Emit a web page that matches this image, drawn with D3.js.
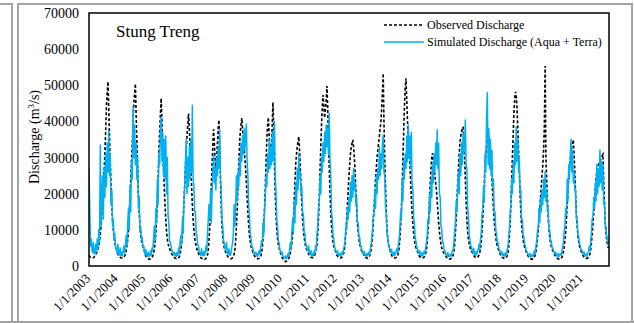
<!DOCTYPE html>
<html>
<head>
<meta charset="utf-8">
<script src="https://cdn.jsdelivr.net/npm/d3@7"></script>
<style>
  html, body { margin: 0; padding: 0; background: #fff; }
  svg { display: block; }
  text { font-family: "Liberation Serif", "Times New Roman", serif; fill: #000; }
</style>
</head>
<body>
<svg id="chart" width="634" height="323"></svg>
<script>
// Stung Treng discharge, thousands of m3/s, one value per ten days
// (1st, 11th and 21st of each month), one row per year 2003-2021.
const observedK = [
  3.0,2.6,2.4, 2.3,2.2,2.2, 2.3,2.5,2.9, 3.2,3.6,4.0, 4.6,5.5,7.0, 9.0,11.5,14, 17,21,26, 31,37,44, 48,51,44, 36,29,23, 17,13,10, 8.0,6.5,5.5,
  4.8,4.0,3.4, 2.9,2.6,2.4, 2.3,2.2,2.2, 2.3,2.5,2.8, 3.3,4.2,5.5, 7.5,10,14, 19,24,29, 34,40,45, 48,50.4,42, 34,27,20, 15,11,8.5, 7,6,5.2,
  4.6,4.0,3.2, 2.6,2.3,2.1, 2.0,1.9,1.9, 2.0,2.2,2.4, 2.8,3.5,4.5, 6.5,9,13, 18,24,31, 37,42,46.4, 40,33,27, 22,17,13, 9.5,7.5,6.2, 5.4,4.8,4.3,
  3.8,3.3,2.9, 2.6,2.4,2.2, 2.1,2.0,2.0, 2.1,2.3,2.6, 3.2,4.5,6.5, 9,13,18, 22,27,32, 36,39,42.2, 38,33,27, 22,17,13, 10,8,6.5, 5.5,4.6,4.0,
  3.5,3.0,2.6, 2.3,2.1,2.0, 1.9,1.8,1.8, 1.9,2.1,2.4, 3.0,4.5,7, 11,16,22, 28,33,37.8, 34,29,27, 30,34,38, 40.4,33,24, 16,11,8, 6.2,5.0,4.2,
  3.8,3.2,2.8, 2.5,2.3,2.2, 2.1,2.0,2.1, 2.3,2.7,3.3, 4.5,7,11, 16,22,28, 33,37,39, 40.9,38,35, 33,30,27, 23,19,15, 11,8.5,6.8, 5.6,4.8,4.2,
  3.6,3.1,2.7, 2.4,2.2,2.1, 2.0,2.0,2.1, 2.3,2.7,3.5, 5,7.5,11, 16,22,29, 35,39,41.1, 36,32,30, 33,39,45.3, 38,28,20, 14,10,7.5, 6,5,4.2,
  3.5,2.9,2.4, 2.0,1.7,1.5, 1.3,1.2,1.3, 1.5,1.8,2.2, 2.8,3.6,4.8, 6.5,9,13, 18,23,28, 31,33,34.5, 35.8,32,27, 22,17,13, 10,8,6.5, 5.5,4.8,4.2,
  3.8,3.3,2.9, 2.6,2.4,2.3, 2.3,2.4,2.6, 3.0,3.6,4.5, 6,9,13, 19,26,33, 39,44,47.3, 44,41,43, 46,49.8,44, 36,28,21, 15,11,8.5, 6.8,5.6,4.8,
  4.2,3.6,3.1, 2.7,2.5,2.3, 2.2,2.2,2.3, 2.5,2.9,3.5, 4.5,6.5,9.5, 13,17,21, 25,28,31, 33,34,34.9, 33,30,26, 21,16,12, 9.5,7.5,6.2, 5.3,4.6,4.0,
  4.0,3.3,2.8, 2.5,2.3,2.2, 2.1,2.2,2.4, 2.8,3.4,4.3, 6,8.5,12, 16,20,24, 27,30,32, 34,36,38, 40,44,48, 53.3,40,30, 22,15,10, 7.5,6,5,
  4.2,3.5,3.0, 2.6,2.4,2.3, 2.2,2.2,2.3, 2.5,2.9,3.6, 5,7.5,11, 16,22,30, 37,44,49, 51.9,46,40, 36,33,29, 24,19,15, 11.5,9,7.2, 6,5.2,4.6,
  4.0,3.4,2.9, 2.6,2.4,2.3, 2.2,2.2,2.3, 2.5,2.9,3.5, 4.5,6.5,9.5, 13,18,23, 27,30,31.2, 29,27,25, 23,21,18, 15,12,9.5, 7.5,6,5, 4.4,3.9,3.5,
  3.2,2.8,2.5, 2.3,2.1,2.0, 1.9,1.9,2.0, 2.2,2.5,3.0, 4,6,9, 13,18,23, 27,31,34, 36,37,38, 38.5,35,30, 24,18,13, 9.5,7.5,6.2, 5.3,4.6,4.1,
  3.8,3.3,2.9, 2.6,2.4,2.3, 2.3,2.4,2.6, 3.0,3.7,4.8, 6.5,9.5,13, 18,23,28, 31,33,35, 35.5,36,34, 31,28,24, 20,16,12.5, 10,8,6.5, 5.6,4.9,4.3,
  3.8,3.2,2.8, 2.5,2.3,2.2, 2.1,2.1,2.2, 2.4,2.8,3.5, 5,8,12, 17,23,30, 36,42,46, 48.2,47,44, 38,32,26, 20,15,11.5, 9,7.2,6, 5.2,4.5,4.0,
  3.6,3.0,2.6, 2.3,2.1,2.0, 1.9,1.9,2.0, 2.2,2.5,3.0, 4,5.5,7.5, 10,13,16, 19,22,25, 28,32,38, 55.3,30,24, 19,14,10.5, 8,6.5,5.5, 4.8,4.2,3.7,
  3.3,2.9,2.6, 2.3,2.1,2.0, 1.9,1.9,2.0, 2.1,2.4,2.9, 3.8,5.2,7, 9.5,13,17, 21,24,27, 29,31,33, 34,34.9,31, 26,20,15, 11,8.5,6.8, 5.6,4.8,4.2,
  3.7,3.2,2.8, 2.5,2.3,2.2, 2.1,2.1,2.2, 2.4,2.8,3.4, 4.5,6.5,9, 12,15,18, 21,24,26, 27,28,28.5, 29,29.5,30, 30.5,30.9,24, 17,12,9, 7,6,5
];

const simulatedK = [
  27,16,5.5, 7.5,4.2,3.6, 6.5,4,3.4, 6,3.8,7.5, 4.8,10,6.5, 33.5,11,19, 25,13,27, 19,31,22, 34,26,37.4, 25,31,17, 21,11,13, 7.5,9,5.2,
  4.6,3.6,6, 3.3,3,5, 2.9,3.8,2.8, 4.2,5.5,3.6, 6,8.5,5.5, 12,16,10, 22,15,29, 24,44,30, 39,28,34, 24,30,16, 19,10,11, 7,8,5.2,
  5.5,3.8,3.1, 4.5,2.9,2.7, 3.8,2.6,3, 4.2,2.9,5, 4.2,7.5,11, 7,16,12, 24,17,31, 28,38,41.3, 29,37,25, 35,24,36, 20,30,14, 12,7,6.5,
  5.5,4.2,4, 3.1,3.8,2.8, 3.4,2.6,3.8, 2.9,5,3.4, 6.5,8.5,6, 13,9,18, 22,29,35, 20,30,22, 33,24,35, 26,44.5,24, 22,15,15, 9,8.5,6,
  5.5,4,3.6, 3,4.8,2.9, 2.8,4,2.9, 3.6,5.5,4, 9,12.5,17, 13,21,12, 20,26,31, 23,27,21, 30,25,33, 27,37.6,24, 21,13,11, 7,6.5,4.8,
  4.5,6.5,3.6, 3.2,4.8,3, 2.9,3.8,5.2, 6.5,9.5,17, 11,16,25, 18,26,22, 30,25,34, 29,36,31, 38,32,36, 39.3,29,25, 17,14,9, 8,5.5,5.2,
  4.3,3.5,3.4, 3.8,2.8,3.5, 2.7,3.5,4.3, 3.3,5.5,7, 6.5,12,8.5, 16,19,25, 22,31,26, 35,27,33, 28,37,29, 35,40,25, 20,13,11, 7,6.5,4.6,
  4,3.2,3.9, 2.7,2.5,2.2, 2.2,2.8,2.0, 2.6,3.5,2.7, 4.5,6.5,4.8, 10,13,9.5, 18,12,23, 17,27,21, 31.2,24,26, 20,22,15, 14,9.5,9, 6,6,4.5,
  4.2,5.5,3.5, 3.1,4.3,2.9, 3.4,2.8,4, 3.3,5.5,4.3, 9,11,16, 17,25,20, 30,26,34, 29,37,31, 39,33,38, 31,42.2,30, 25,15,13, 8.5,7.5,5.3,
  4.8,3.9,3.6, 4.2,3,2.9, 3.5,2.7,3.4, 3.9,3.2,4.8, 5.5,7.5,11, 10,16,13, 19,15,23, 18,25,19, 27,21,23, 17,19,12, 12,8,8, 5.6,5.5,4.3,
  4,3.3,4, 2.9,2.8,3.5, 2.7,3.2,3.8, 3.1,4.6,5.8, 7.5,10,14, 14,21,16, 25,20,27, 24,33,25, 31,27,34, 36.2,26,25, 16,14,9, 8,5.8,5.2,
  4.5,3.7,4.6, 3.2,3,3.9, 2.8,3.5,4, 4.8,3.6,6, 7.5,10,15, 13,24,18, 29,24,31, 27,36,29, 39,30,36, 27,37,23, 21,13,12, 8,7,5.3,
  4.8,3.9,3.4, 4.2,2.9,2.8, 3.7,2.8,3.5, 4.1,3.3,5.2, 6.5,8.5,13, 12,20,15, 24,19,28, 23,31,26, 34,28,37.6, 27,34,20, 19,11,10, 6.5,6.5,4.8,
  4.2,3.5,3.2, 2.8,3.7,2.6, 2.7,3.2,2.6, 3.3,4.2,4.4, 6.5,9.5,12, 18,15,22, 26,20,31, 25,34,28, 37,31,34, 40.4,28,27, 16,14,8.5, 7.5,5.8,5.2,
  4.4,3.7,4.9, 3.2,3,4, 3.1,4.2,4.5, 6,4.5,7.5, 9,14,16, 22,18,31, 26,41,48, 28,38,27, 35,25,32, 22,24,15, 15,10,9, 6.5,6.5,4.8,
  4.5,3.6,3.4, 4,2.9,2.8, 3.4,2.7,3.6, 3,4.4,5.2, 7.5,10,14, 17,24,20, 29,23,34, 28,38.5,29, 35,26,30, 20,21,13, 13,8.5,8, 6,5.5,4.3,
  4,3.4,3.2, 2.7,3.5,2.5, 2.7,3.2,2.6, 3.5,4.3,3.4, 5.5,7,9.5, 11,16,12, 19,15,21, 17,24,19, 26.1,18,21, 15,16,10, 10,7,7, 5.2,5,4,
  3.8,3.2,3.9, 2.8,2.7,3.4, 2.5,3.1,3.4, 2.9,4.2,5.2, 6.5,9.5,11, 16,14,24, 18,28,24, 31,35.1,26, 32,23,26, 21,21,13, 13,8.5,8.5, 6.2,5.8,4.6,
  4.4,3.6,3.5, 3.9,2.9,2.8, 3.3,2.7,3.6, 3.8,5.5,4.2, 7,9.5,13, 14,19,16, 23,18,28, 20,27,22, 32.1,23,29, 21,28,17, 18,11,11, 7.5,8,6
];

const yearLabels = d3.range(2003, 2022).map(y => `1/1/${y}`);
const yTicks = [0, 10000, 20000, 30000, 40000, 50000, 60000, 70000];
const seriesNames = ["Observed Discharge", "Simulated Discharge (Aqua + Terra)"];
const stationName = "Stung Treng";

// ten-day sampling dates: 1st, 11th, 21st of every month
function sampleDate(i) {
  const year = 2003 + Math.floor(i / 36);
  const k = i % 36;
  return new Date(year, Math.floor(k / 3), 1 + 10 * (k % 3));
}
const observed = observedK.map((v, i) => ({ date: sampleDate(i), value: v * 1000 }));
const simulated = simulatedK.map((v, i) => ({ date: sampleDate(i), value: v * 1000 }));

const svg = d3.select("#chart");
const plot = { left: 89, top: 13, right: 609, bottom: 266 };

const x = d3.scaleTime()
  .domain([new Date(2003, 0, 1), new Date(2021, 11, 31)])
  .range([plot.left, plot.right]);
const y = d3.scaleLinear().domain([0, 70000]).range([plot.bottom, plot.top]);

// panel frames
const frame = svg.append("g").attr("fill", "none").attr("stroke", "#a3a3a3").attr("stroke-width", 2);
frame.append("line").attr("x1", 0).attr("x2", 12).attr("y1", 4).attr("y2", 4);
frame.append("line").attr("x1", 12).attr("x2", 12).attr("y1", 3).attr("y2", 323);
frame.append("rect").attr("x", 18).attr("y", 4).attr("width", 614).attr("height", 318);
frame.append("line").attr("x1", 0).attr("x2", 634).attr("y1", 322).attr("y2", 322);

// series
const line = d3.line().x(d => x(d.date)).y(d => y(d.value));
svg.append("clipPath").attr("id", "plotclip")
  .append("rect").attr("x", plot.left).attr("y", plot.top)
  .attr("width", plot.right - plot.left).attr("height", plot.bottom - plot.top);

const series = svg.append("g").attr("clip-path", "url(#plotclip)");
series.append("path").datum(observed)
  .attr("d", line).attr("fill", "none")
  .attr("stroke", "#000").attr("stroke-width", 1.6).attr("stroke-dasharray", "3,2");
series.append("path").datum(simulated)
  .attr("d", line).attr("fill", "none")
  .attr("stroke", "#00b0f0").attr("stroke-width", 1.5).attr("stroke-linejoin", "round");

// plot-area border
svg.append("rect")
  .attr("x", plot.left).attr("y", plot.top)
  .attr("width", plot.right - plot.left).attr("height", plot.bottom - plot.top)
  .attr("fill", "none").attr("stroke", "#000").attr("stroke-width", 1.5);

// y axis labels
const yAxis = d3.axisLeft(y).tickValues(yTicks).tickSize(0).tickPadding(10).tickFormat(d3.format("d"));
const yg = svg.append("g").attr("transform", `translate(${plot.left},0)`).call(yAxis);
yg.select(".domain").remove();
yg.selectAll("text").attr("font-size", 14).attr("font-family", "Liberation Serif");

// x axis labels, rotated
const xTicks = yearLabels.map((s, i) => new Date(2003 + i, 0, 1));
svg.append("g").selectAll("text").data(xTicks).join("text")
  .attr("transform", d => `translate(${x(d) - 1},${plot.bottom + 10}) rotate(-45)`)
  .attr("text-anchor", "end").attr("dy", "0.35em")
  .attr("font-size", 13)
  .text((d, i) => yearLabels[i]);

// y axis title
const yt = svg.append("text")
  .attr("transform", `translate(39,137) rotate(-90)`)
  .attr("text-anchor", "middle").attr("font-size", 14);
yt.append("tspan").text("Discharge (m");
yt.append("tspan").attr("font-size", 9).attr("dy", -5).text("3");
yt.append("tspan").attr("dy", 5).text("/s)");

// station name
svg.append("text").attr("x", 116).attr("y", 37).attr("font-size", 17).text(stationName);

// legend
const lg = svg.append("g");
lg.append("line").attr("x1", 384).attr("x2", 424).attr("y1", 25).attr("y2", 25)
  .attr("stroke", "#000").attr("stroke-width", 1.4).attr("stroke-dasharray", "3,2");
lg.append("line").attr("x1", 384).attr("x2", 424).attr("y1", 42).attr("y2", 42)
  .attr("stroke", "#00b0f0").attr("stroke-width", 1.4);
lg.append("text").attr("x", 427).attr("y", 29).attr("font-size", 12).text(seriesNames[0]);
lg.append("text").attr("x", 427).attr("y", 46).attr("font-size", 12).text(seriesNames[1]);
</script>
</body>
</html>
